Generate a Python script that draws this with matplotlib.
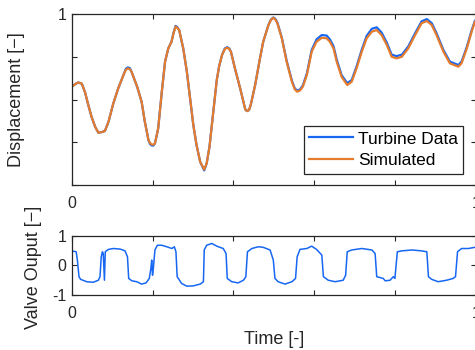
import matplotlib
matplotlib.use("Agg")
import matplotlib.pyplot as plt

plt.rcParams['font.family'] = ['Liberation Sans', 'DejaVu Sans']

# Displacement (normalised time 0..1)
t_disp = [0.000, 0.008, 0.016, 0.025, 0.033, 0.041, 0.049, 0.058, 0.066, 0.074,
          0.082, 0.091, 0.103, 0.115, 0.128, 0.134, 0.139, 0.144, 0.148, 0.162,
          0.173, 0.181, 0.190, 0.194, 0.198, 0.202, 0.206, 0.214, 0.223, 0.231,
          0.239, 0.247, 0.252, 0.257, 0.261, 0.266, 0.276, 0.285, 0.293, 0.301,
          0.309, 0.318, 0.328, 0.334, 0.341, 0.350, 0.359, 0.365, 0.372, 0.379,
          0.385, 0.390, 0.394, 0.404, 0.417, 0.429, 0.431, 0.435, 0.439, 0.443,
          0.454, 0.466, 0.474, 0.487, 0.493, 0.499, 0.504, 0.509, 0.520, 0.532,
          0.545, 0.552, 0.558, 0.565, 0.572, 0.582, 0.594, 0.606, 0.619, 0.631,
          0.639, 0.648, 0.656, 0.668, 0.682, 0.693, 0.705, 0.718, 0.730, 0.743,
          0.755, 0.767, 0.780, 0.792, 0.804, 0.817, 0.833, 0.850, 0.866, 0.879,
          0.891, 0.903, 0.920, 0.936, 0.957, 0.965, 0.978, 0.990, 0.998]

simulated = [0.575, 0.589, 0.600, 0.593, 0.542, 0.468, 0.400, 0.341, 0.306, 0.310,
             0.316, 0.370, 0.478, 0.565, 0.643, 0.674, 0.682, 0.677, 0.663, 0.575,
             0.487, 0.370, 0.263, 0.245, 0.238, 0.236, 0.244, 0.331, 0.546, 0.721,
             0.799, 0.838, 0.887, 0.926, 0.920, 0.906, 0.799, 0.663, 0.507, 0.351,
             0.234, 0.136, 0.091, 0.127, 0.224, 0.419, 0.614, 0.696, 0.760, 0.796,
             0.803, 0.795, 0.780, 0.682, 0.565, 0.448, 0.438, 0.433, 0.440, 0.468,
             0.585, 0.741, 0.838, 0.936, 0.965, 0.978, 0.968, 0.946, 0.858, 0.721,
             0.604, 0.560, 0.546, 0.553, 0.575, 0.643, 0.780, 0.838, 0.861, 0.858,
             0.838, 0.799, 0.721, 0.633, 0.585, 0.604, 0.682, 0.780, 0.858, 0.897,
             0.906, 0.877, 0.819, 0.750, 0.741, 0.750, 0.799, 0.877, 0.946, 0.959,
             0.936, 0.877, 0.780, 0.712, 0.692, 0.712, 0.799, 0.897, 0.955]

turbine = [0.575, 0.589, 0.600, 0.593, 0.542, 0.468, 0.400, 0.341, 0.306, 0.310,
           0.316, 0.370, 0.478, 0.565, 0.643, 0.680, 0.688, 0.683, 0.663, 0.575,
           0.487, 0.370, 0.263, 0.240, 0.232, 0.231, 0.244, 0.331, 0.546, 0.721,
           0.799, 0.838, 0.890, 0.930, 0.924, 0.906, 0.799, 0.663, 0.507, 0.351,
           0.234, 0.136, 0.086, 0.127, 0.224, 0.419, 0.614, 0.696, 0.760, 0.799,
           0.806, 0.798, 0.780, 0.682, 0.565, 0.448, 0.438, 0.433, 0.440, 0.468,
           0.585, 0.741, 0.838, 0.936, 0.967, 0.980, 0.972, 0.950, 0.862, 0.727,
           0.610, 0.566, 0.552, 0.559, 0.582, 0.652, 0.790, 0.852, 0.877, 0.874,
           0.852, 0.812, 0.733, 0.643, 0.596, 0.614, 0.693, 0.792, 0.872, 0.914,
           0.922, 0.892, 0.832, 0.762, 0.754, 0.762, 0.810, 0.888, 0.957, 0.970,
           0.947, 0.888, 0.790, 0.722, 0.702, 0.722, 0.808, 0.905, 0.960]

# Valve output
t_valve = [0.000, 0.011, 0.014, 0.018, 0.022, 0.037, 0.053, 0.066, 0.070, 0.073,
           0.076, 0.078, 0.081, 0.083, 0.091, 0.103, 0.120, 0.132, 0.138, 0.141,
           0.149, 0.161, 0.173, 0.184, 0.192, 0.196, 0.198, 0.200, 0.202, 0.206,
           0.212, 0.223, 0.235, 0.248, 0.254, 0.258, 0.261, 0.272, 0.285, 0.301,
           0.318, 0.326, 0.328, 0.334, 0.347, 0.359, 0.375, 0.382, 0.385, 0.396,
           0.412, 0.425, 0.431, 0.435, 0.446, 0.462, 0.474, 0.491, 0.499, 0.503,
           0.511, 0.528, 0.545, 0.554, 0.558, 0.565, 0.582, 0.594, 0.606, 0.619,
           0.623, 0.635, 0.652, 0.672, 0.678, 0.682, 0.693, 0.718, 0.743, 0.751,
           0.755, 0.771, 0.776, 0.788, 0.796, 0.800, 0.806, 0.817, 0.842, 0.866,
           0.879, 0.883, 0.891, 0.907, 0.928, 0.944, 0.950, 0.955, 0.965, 0.982,
           0.998]
valve = [0.49, 0.46, 0.18, -0.38, -0.47, -0.55, -0.57, -0.50, -0.38, 0.29,
         0.46, 0.40, -0.50, 0.46, 0.54, 0.57, 0.55, 0.49, 0.29, -0.44,
         -0.52, -0.55, -0.63, -0.59, -0.44, -0.10, 0.18, -0.33, -0.10, 0.52,
         0.68, 0.68, 0.63, 0.57, 0.63, 0.46, -0.38, -0.61, -0.70, -0.69,
         -0.63, -0.55, 0.52, 0.68, 0.74, 0.65, 0.57, 0.40, -0.44, -0.55,
         -0.59, -0.50, -0.38, 0.46, 0.57, 0.63, 0.61, 0.52, 0.18, -0.44,
         -0.55, -0.63, -0.55, -0.44, 0.29, 0.54, 0.57, 0.65, 0.54, 0.35,
         -0.38, -0.50, -0.55, -0.50, -0.33, 0.46, 0.52, 0.57, 0.52, 0.40,
         -0.38, -0.44, -0.52, -0.50, -0.38, -0.44, 0.46, 0.49, 0.52, 0.49,
         0.46, -0.38, -0.47, -0.55, -0.50, -0.44, -0.38, 0.46, 0.57, 0.57,
         0.61]

blue = '#1767F2'
orange = '#E57B2C'
dark = '#262626'

fig = plt.figure(figsize=(4.75, 3.5), dpi=100)
ax1 = fig.add_axes([0.151, 0.471, 0.8505, 0.489])
ax2 = fig.add_axes([0.151, 0.157, 0.8505, 0.1694])

ax1.plot(t_disp, turbine, color=blue, lw=1.6, solid_joinstyle='round',
         label='Turbine Data')
ax1.plot(t_disp, simulated, color=orange, lw=1.6, solid_joinstyle='round',
         label='Simulated')
ax1.set_xlim(0, 1)
ax1.set_ylim(0, 1)
ax1.set_xticks([0, 0.2, 0.4, 0.6, 0.8, 1])
ax1.set_xticklabels(['0', '', '', '', '', '1'])
ax1.set_yticks([0, 0.25, 0.5, 0.75, 1])
ax1.set_yticklabels(['', '', '', '', '1'])
ax1.set_ylabel('Displacement [\u2212]', fontsize=13, color=dark)
ax1.yaxis.set_label_coords(-0.116, 0.5)
leg = ax1.legend(loc='lower right', bbox_to_anchor=(0.969, 0.068), fontsize=12.5,
                 fancybox=False, framealpha=1, edgecolor=dark, borderpad=0.3,
                 handlelength=2.5, handletextpad=0.3, labelspacing=0.38,
                 borderaxespad=0)
leg.get_frame().set_linewidth(0.9)

ax2.plot(t_valve, valve, color=blue, lw=1.1)
ax2.set_xlim(0, 1)
ax2.set_ylim(-1, 1)
ax2.set_xticks([0, 0.2, 0.4, 0.6, 0.8, 1])
ax2.set_xticklabels(['0', '', '', '', '', '1'])
ax2.set_yticks([-1, 0, 1])
ax2.set_yticklabels(['-1', '0', '1'])
ax2.set_ylabel('Valve Ouput [\u2212]', fontsize=13, color=dark)
ax2.yaxis.set_label_coords(-0.0735, 0.46)
ax2.set_xlabel('Time [-]', fontsize=13, color=dark)
ax2.xaxis.set_label_coords(0.5, -0.6)

for ax in (ax1, ax2):
    for s in ax.spines.values():
        s.set_color(dark)
        s.set_linewidth(0.9)
    ax.tick_params(direction='in', top=True, right=True, length=3.5, width=0.8,
                   colors=dark, labelsize=11.5)
    ax.tick_params(axis='x', pad=8)
    ax.tick_params(axis='y', pad=4)

fig.savefig('out.png', dpi=100)
